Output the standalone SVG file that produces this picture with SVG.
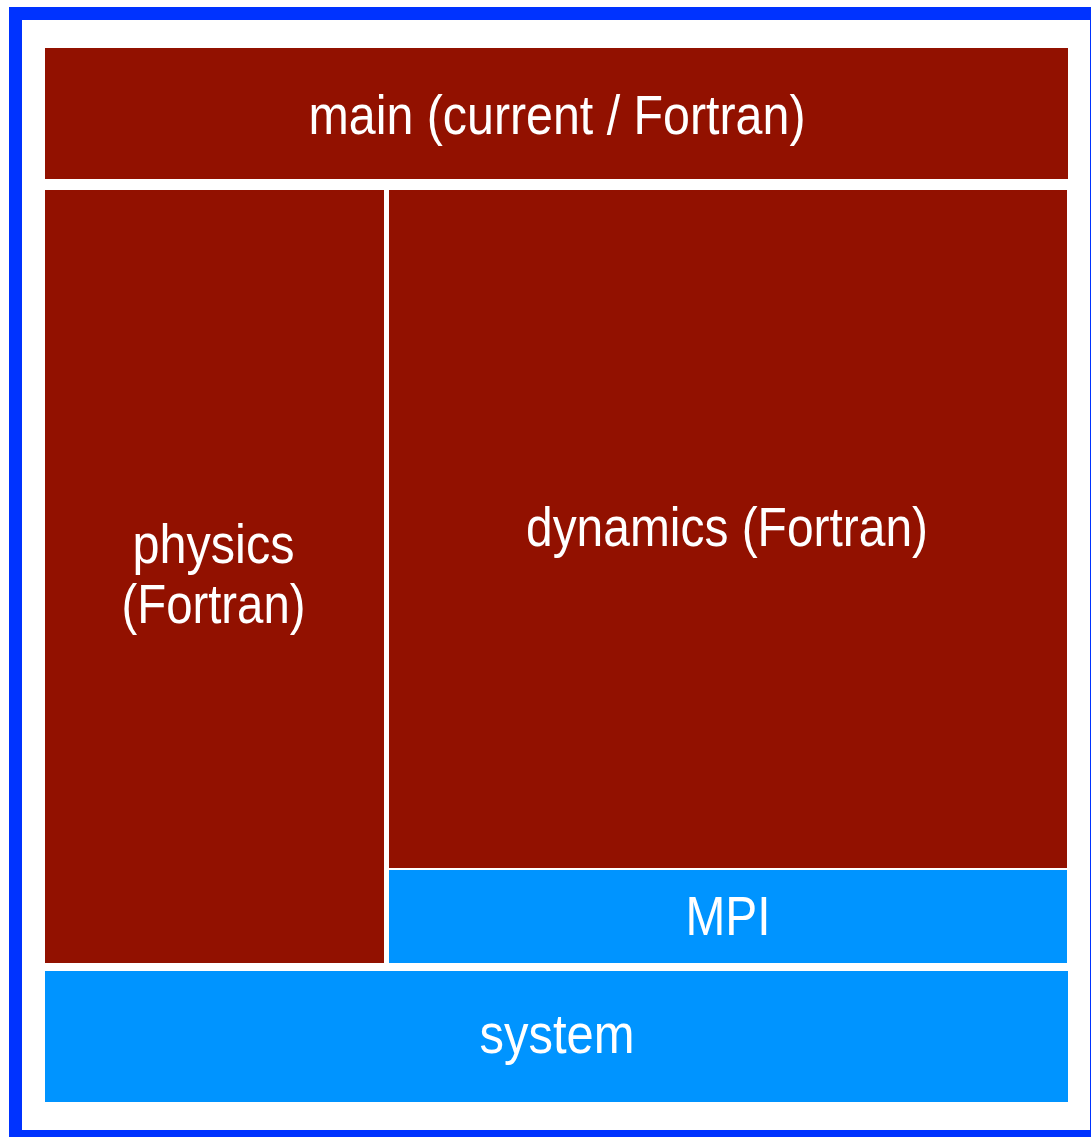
<svg xmlns="http://www.w3.org/2000/svg" width="1091" height="1137" viewBox="0 0 1091 1137">
<style>
.red{fill:#921100}
.blue{fill:#0094FF}
.lbl{font-family:"Liberation Sans",Arial,sans-serif;font-size:56px;fill:#ffffff;text-anchor:middle}
</style>
<rect x="0" y="0" width="1091" height="1137" fill="#ffffff"/>
<rect id="frame" x="15.5" y="13.5" width="1081" height="1123" fill="none" stroke="#0033FF" stroke-width="13"/>
<g id="main"><rect class="red" x="45" y="48" width="1023" height="131"/><text class="lbl" x="557" y="134" textLength="497" lengthAdjust="spacingAndGlyphs">main (current / Fortran)</text></g>
<g id="physics"><rect class="red" x="45" y="190" width="339" height="773"/><text class="lbl" x="213.5" y="563" textLength="162" lengthAdjust="spacingAndGlyphs">physics</text><text class="lbl" x="213.5" y="623" textLength="184" lengthAdjust="spacingAndGlyphs">(Fortran)</text></g>
<g id="dynamics"><rect class="red" x="389" y="190" width="678" height="678"/><text class="lbl" x="727" y="546" textLength="402" lengthAdjust="spacingAndGlyphs">dynamics (Fortran)</text></g>
<g id="mpi"><rect class="blue" x="389" y="870" width="678" height="93"/><text class="lbl" x="728" y="935" textLength="85" lengthAdjust="spacingAndGlyphs">MPI</text></g>
<g id="system"><rect class="blue" x="45" y="971" width="1023" height="131"/><text class="lbl" x="557" y="1053" textLength="155" lengthAdjust="spacingAndGlyphs">system</text></g>
<g id="connectors"/>
</svg>
